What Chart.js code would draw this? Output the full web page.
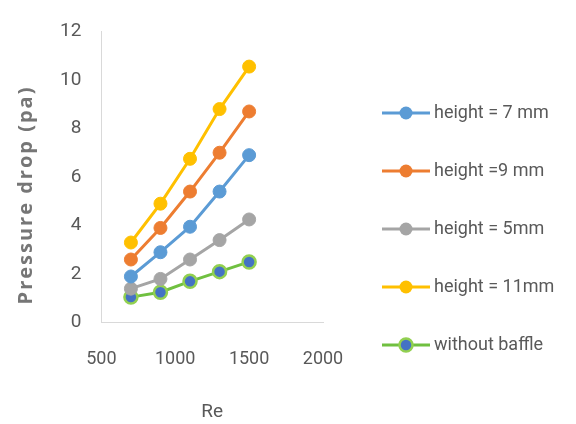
<!DOCTYPE html>
<html lang="en">
<head>
  <meta charset="UTF-8">
  <title>Pressure drop vs Re</title>
  <script src="https://cdn.jsdelivr.net/npm/chart.js"></script>
  <style>
    body {
      margin: 0;
      background: #ffffff;
    }
    #wrap {
      width: 576px;
      height: 424px;
    }
  </style>
</head>
<body>
  <div id="wrap"><canvas id="dropChart" width="576" height="424"></canvas></div>

  <script>
    // Reynolds numbers and measured pressure drop (pa)
    const reValues = [700, 900, 1100, 1300, 1500];
    const height7 = [1.9, 2.9, 3.95, 5.4, 6.9];
    const height9 = [2.6, 3.9, 5.4, 7.0, 8.7];
    const height5 = [1.4, 1.8, 2.6, 3.4, 4.25];
    const height11 = [3.3, 4.9, 6.75, 8.8, 10.55];
    const noBaffle = [1.05, 1.25, 1.7, 2.1, 2.5];

    const seriesNames = ['height = 7 mm', 'height =9 mm', 'height = 5mm', 'height = 11mm', 'without baffle'];
    const seriesData = [height7, height9, height5, height11, noBaffle];
    const lineColors = ['#5B9BD5', '#ED7D31', '#A5A5A5', '#FFC000', '#70C040'];
    const dotColors = ['#5B9BD5', '#ED7D31', '#A5A5A5', '#FFC000', '#4472C4'];

    const fontName = "Roboto, 'Open Sans', sans-serif";
    const grey = '#595959';

    const datasets = seriesNames.map((name, i) => ({
      label: name,
      data: reValues.map((re, j) => ({ x: re, y: seriesData[i][j] })),
      borderColor: lineColors[i],
      backgroundColor: dotColors[i],
      pointBorderColor: i === 4 ? '#92D050' : dotColors[i],
      pointBorderWidth: i === 4 ? 2.5 : 1,
      pointRadius: 6.5,
      borderWidth: 3,
      tension: 0
    }));

    // legend on the right (line with a dot) and the spaced-out y title
    const extras = {
      id: 'extras',
      afterDraw(chart) {
        const ctx = chart.ctx;
        const rows = [113, 171, 229, 287, 345];
        ctx.save();
        ctx.font = '18px ' + fontName;
        ctx.textBaseline = 'middle';
        seriesNames.forEach((name, i) => {
          const y = rows[i];
          ctx.strokeStyle = lineColors[i];
          ctx.lineWidth = 3;
          ctx.beginPath();
          ctx.moveTo(382, y);
          ctx.lineTo(430, y);
          ctx.stroke();
          ctx.beginPath();
          ctx.arc(406, y, 6.5, 0, Math.PI * 2);
          ctx.fillStyle = dotColors[i];
          ctx.fill();
          if (i === 4) {
            ctx.strokeStyle = '#92D050';
            ctx.lineWidth = 2.5;
            ctx.stroke();
          }
          ctx.fillStyle = grey;
          ctx.fillText(name, 434, y);
        });

        ctx.translate(26, 195);
        ctx.rotate(-Math.PI / 2);
        ctx.letterSpacing = '2px';
        ctx.font = "bold 20px 'Open Sans', sans-serif";
        ctx.fillStyle = '#767676';
        ctx.textAlign = 'center';
        ctx.textBaseline = 'middle';
        ctx.fillText('Pressure drop (pa)', 0, 0);
        ctx.restore();
      }
    };

    new Chart(document.getElementById('dropChart'), {
      type: 'line',
      data: { datasets: datasets },
      options: {
        responsive: false,
        animation: false,
        layout: { padding: { top: 14, right: 253, bottom: 0, left: 40 } },
        plugins: {
          legend: { display: false },
          tooltip: { enabled: false }
        },
        scales: {
          x: {
            type: 'linear',
            min: 500,
            max: 2000,
            ticks: {
              stepSize: 500,
              color: grey,
              padding: 26,
              font: { family: fontName, size: 18 },
              callback: v => String(v)
            },
            grid: { display: false, drawTicks: false },
            border: { color: '#d9d9d9', width: 1 },
            title: {
              display: true,
              text: 'Re',
              color: grey,
              padding: { top: 5, bottom: 0 },
              font: { family: fontName, size: 19 }
            }
          },
          y: {
            min: 0,
            max: 12,
            ticks: {
              stepSize: 2,
              color: grey,
              padding: 20,
              font: { family: fontName, size: 19 }
            },
            grid: { display: false, drawTicks: false },
            border: { color: '#d9d9d9', width: 1 }
          }
        }
      },
      plugins: [extras]
    });
  </script>
</body>
</html>
